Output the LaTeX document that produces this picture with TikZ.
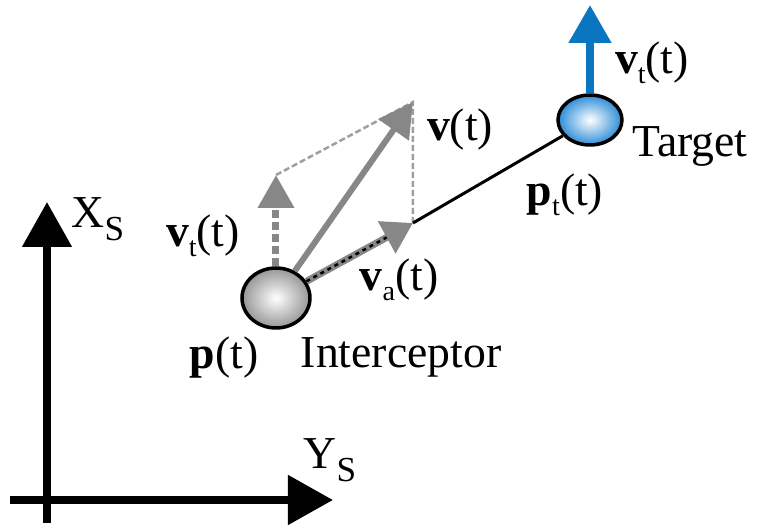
\documentclass[tikz,border=0pt]{standalone}
\usepackage{fontspec}
\setmainfont{Liberation Serif}
\usetikzlibrary{arrows.meta,shapes.geometric}

\definecolor{vecgray}{RGB}{135,135,135}
\definecolor{ballgray}{RGB}{150,150,150}
\definecolor{tgtblue}{RGB}{10,118,192}
\definecolor{ballblue}{RGB}{45,140,215}
\newcommand{\lowsub}[1]{\raisebox{-0.45ex}{\fontsize{8}{9}\selectfont #1}}
\newcommand{\axsub}[1]{\raisebox{-0.6ex}{\fontsize{10}{11}\selectfont #1}}

\begin{document}
\begin{tikzpicture}[x=0.1mm, y=-0.1mm,
    font=\fontsize{13}{15}\selectfont,
    axis/.style={line width=0.8mm, -{Triangle[length=4.5mm,width=4.8mm]}},
    ball/.style={ellipse, draw, line width=0.35mm, inner sep=0pt},
    vec/.style={vecgray, line width=0.6mm, -{Triangle[length=3.4mm,width=3.6mm]}},
    dvec/.style={vecgray, line width=0.7mm, dash pattern=on 0.8mm off 0.4mm,
                 -{Triangle[length=3.3mm,width=3.5mm]}},
    aux/.style={vecgray!80, line width=0.25mm, dash pattern=on 0.6mm off 0.3mm},
    lab/.style={inner sep=1pt}]

  \useasboundingbox (0,0) rectangle (757,525);

  % frame
  \coordinate (xbot) at (47,523);
  \coordinate (xtop) at (47,202);
  \coordinate (ylft) at (10,500);
  \coordinate (yrgt) at (333,500);
  \draw[axis] (xbot) -- (xtop);
  \draw[axis] (ylft) -- (yrgt);
  \node[lab] (xs) at (98,219) {X\axsub{S}};
  \node[lab] (ys) at (330,460) {Y\axsub{S}};

  % bodies
  \node[ball, minimum width=6.8mm, minimum height=6mm,
        shading=radial, inner color=white, outer color=ballgray] (int) at (276,298) {};
  \node[ball, minimum width=6.4mm, minimum height=5mm,
        shading=radial, inner color=white, outer color=ballblue] (tgt) at (590,120) {};

  \coordinate (vttip) at (276,175);
  \coordinate (vtip) at (413,102);
  \coordinate (vatip) at (413,223);
  \coordinate (vtop) at (590,5);

  \draw[aux] (vttip) -- (vtip) -- (vatip);
  \draw[line width=0.3mm] (vatip) -- (tgt);
  \draw[dvec] (int) -- (vttip);
  \draw[vec] (int) -- (vtip);
  \draw[vecgray, line width=0.7mm, -{Triangle[length=3.0mm,width=3.5mm]},
        postaction={draw, black, line width=0.25mm, -, shorten >=3mm,
                    dash pattern=on 0.4mm off 0.4mm}] (int) -- (vatip);
  \draw[tgtblue, line width=0.8mm, -{Triangle[length=3.8mm,width=4.1mm]}] (tgt) -- (vtop);

  % labels
  \node[lab] (lvt) at (203,236) {\textbf{v}\lowsub{t}(t)};
  \node[lab] (lp) at (224,358) {\textbf{p}(t)};
  \node[lab] (lint) at (401,357) {Interceptor};
  \node[lab] (lva) at (399,280) {\textbf{v}\lowsub{a}(t)};
  \node[lab] (lv) at (460,130) {\textbf{v}(t)};
  \node[lab] (lpt) at (565,195) {\textbf{p}\lowsub{t}(t)};
  \node[lab] (ltgt) at (690,146) {Target};
  \node[lab] (lvtt) at (652,63) {\textbf{v}\lowsub{t}(t)};
\end{tikzpicture}
\end{document}
